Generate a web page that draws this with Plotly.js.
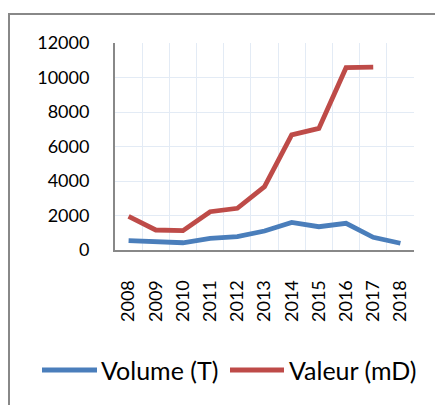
<!DOCTYPE html>
<html>
<head>
<meta charset="utf-8">
<script src="https://cdn.plot.ly/plotly-3.0.1.min.js"></script>
<style>
html,body{margin:0;padding:0;background:#fff;overflow:hidden;}
#wrap{position:relative;width:435px;height:405px;}
#frame{position:absolute;left:8px;top:13px;width:440px;height:400px;border-left:2px solid #888;border-top:2px solid #888;pointer-events:none;z-index:5;}
#chart{position:absolute;left:0;top:0;width:435px;height:405px;}
</style>
</head>
<body>
<div id="wrap"><div id="chart"></div><div id="frame"></div></div>
<script>
const years = ["2008","2009","2010","2011","2012","2013","2014","2015","2016","2017","2018"];
const volume = [540, 450, 420, 680, 770, 1100, 1600, 1350, 1550, 735, 390];
const valeur = [1950, 1160, 1120, 2220, 2420, 3670, 6670, 7050, 10570, 10600, null];
const seriesNames = ["Volume (T)", "Valeur (mD)"];
const seriesColors = ["#4a7ebb", "#be4b48"];
const yTicks = [0, 2000, 4000, 6000, 8000, 10000, 12000];

const W = 435, H = 405;
const L = 115, R = 21, T = 43, B = 155;
const pw = W - L - R, ph = H - T - B;
const px2x = p => (p - L) / pw;
const py2y = p => (H - B - p) / ph;

const FONT = "Lato, 'Open Sans', sans-serif";

const traces = [volume, valeur].map((v, i) => ({
  type: "scatter", mode: "lines", x: years, y: v, name: seriesNames[i],
  line: {color: seriesColors[i], width: 4.8}, connectgaps: false,
  hoverinfo: "skip"
}));

// custom legend
const legendY = py2y(370);
const legendItems = [{x0: 42, x1: 97, tx: 99}, {x0: 230, x1: 284, tx: 287}];
const shapes = legendItems.map((it, i) => ({
  type: "line", xref: "paper", yref: "paper",
  x0: px2x(it.x0), x1: px2x(it.x1), y0: legendY, y1: legendY,
  line: {color: seriesColors[i], width: 5}
}));
const annotations = legendItems.map((it, i) => ({
  xref: "paper", yref: "paper", x: px2x(it.tx), y: legendY,
  xanchor: "left", yanchor: "middle", showarrow: false,
  text: seriesNames[i], font: {family: FONT, size: 25, color: "#000"}
}));

const layout = {
  width: W, height: H,
  margin: {l: L, r: R, t: T, b: B, pad: 0},
  paper_bgcolor: "#fff", plot_bgcolor: "#fff",
  showlegend: false,
  font: {family: FONT, size: 18, color: "#000"},
  xaxis: {
    type: "category", range: [-0.5, 10.5], tickson: "boundaries",
    tickangle: -90, ticks: "", ticklabelstandoff: 21,
    showgrid: true, gridcolor: "#e3ebf5", gridwidth: 1,
    showline: true, linecolor: "#888", linewidth: 2,
    zeroline: false, fixedrange: true,
    tickfont: {family: FONT, size: 18, color: "#000"}
  },
  yaxis: {
    range: [0, 12000], tickvals: yTicks, ticktext: yTicks.map(String),
    ticks: "", ticklabelstandoff: 20,
    showgrid: true, gridcolor: "#e3ebf5", gridwidth: 1,
    showline: true, linecolor: "#888", linewidth: 2,
    zeroline: false, fixedrange: true,
    tickfont: {family: FONT, size: 18, color: "#000"}
  },
  shapes: shapes,
  annotations: annotations
};

Plotly.newPlot("chart", traces, layout, {displayModeBar: false, staticPlot: true});
</script>
</body>
</html>
